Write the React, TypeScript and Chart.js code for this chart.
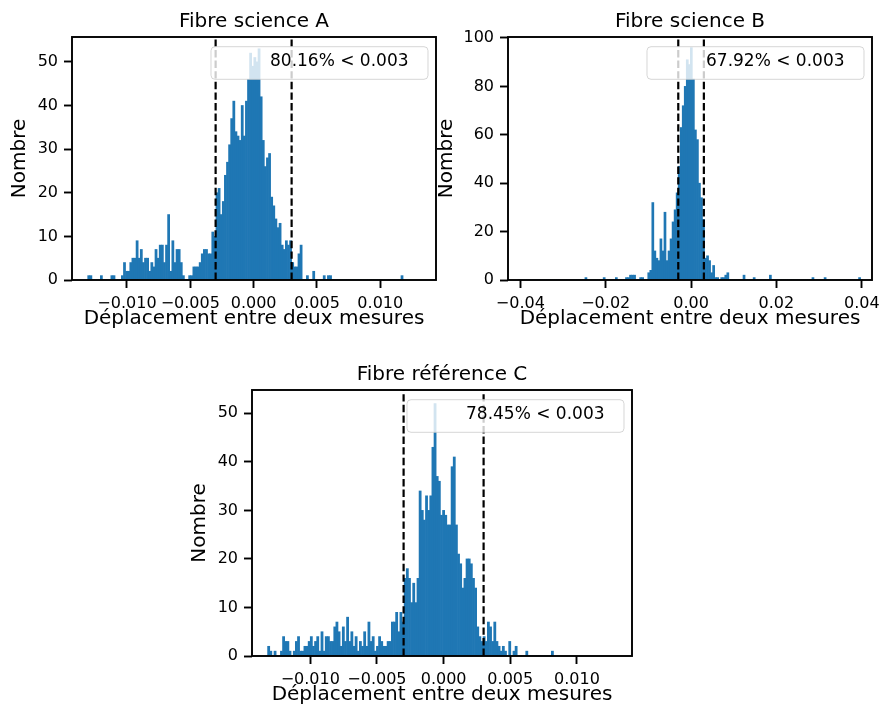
import React, { useEffect, useRef } from "react";
import { Chart, registerables } from "chart.js";

Chart.register(...registerables);

const FONT = "'DejaVu Sans', 'Liberation Sans', sans-serif";
const BAR_COLOR = "#1f77b4";
const X_LABEL = "Déplacement entre deux mesures";
const Y_LABEL = "Nombre";
const THRESHOLD = 0.003;

// ---- Panel A : Fibre science A ----
const A_TITLE = "Fibre science A";
const A_LEGEND = "80.16% < 0.003";
const A_BIN_START = -0.0131;
const A_BIN_WIDTH = 0.000166;
const A_COUNTS = [
  1, 1, 0, 0, 0, 0, 1, 0, 0, 0,
  0, 1, 1, 0, 0, 0, 1, 4, 2, 2,
  4, 5, 5, 9, 5, 7, 4, 5, 5, 2,
  4, 3, 7, 5, 8, 8, 4, 8, 15, 2,
  9, 4, 7, 7, 4, 1, 0, 0, 1, 1,
  3, 3, 3, 4, 6, 7, 7, 6, 6, 11,
  10, 20, 21, 15, 18, 24, 27, 31, 37, 41,
  34, 33, 32, 40, 33, 41, 46, 52, 49, 51,
  50, 53, 42, 32, 26, 28, 29, 19, 17, 14,
  12, 13, 8, 7, 9, 8, 9, 4, 3, 3,
  6, 8, 0, 0, 1, 0, 0, 2, 0, 0,
  0, 0, 1, 0, 1, 1, 0, 0, 0, 0,
  0, 0, 0, 0, 0, 0, 0, 0, 0, 0,
  0, 0, 0, 0, 0, 0, 0, 0, 0, 0,
  0, 0, 0, 0, 0, 0, 0, 0, 0, 1,
];
const A_X_TICKS = [-0.01, -0.005, 0, 0.005, 0.01];
const A_Y_TICKS = [0, 10, 20, 30, 40, 50];
const A_X_MIN = -0.01434;
const A_X_MAX = 0.0144;
const A_Y_MAX = 55.7;

// ---- Panel B : Fibre science B ----
const B_TITLE = "Fibre science B";
const B_LEGEND = "67.92% < 0.003";
const B_BIN_START = -0.04055;
const B_BIN_WIDTH = 0.000475;
const B_COUNTS = [
  0, 0, 0, 0, 0, 0, 0, 0, 0, 0,
  0, 0, 0, 0, 0, 0, 0, 0, 0, 0,
  0, 0, 0, 0, 0, 0, 0, 0, 0, 0,
  0, 0, 0, 1, 0, 0, 0, 0, 0, 0,
  0, 0, 1, 0, 0, 0, 0, 0, 1, 0,
  0, 0, 0, 1, 1, 2, 2, 2, 0, 0,
  1, 1, 0, 0, 3, 4, 32, 12, 9, 8,
  17, 12, 28, 8, 12, 17, 24, 29, 36, 47,
  63, 72, 80, 91, 89, 96, 83, 62, 58, 40,
  34, 25, 9, 10, 8, 3, 6, 1, 1, 0,
  1, 1, 2, 3, 0, 0, 0, 0, 0, 0,
  0, 2, 0, 0, 0, 0, 1, 0, 0, 0,
  0, 0, 0, 0, 2, 0, 0, 0, 0, 0,
  0, 0, 0, 0, 0, 0, 0, 0, 0, 0,
  0, 0, 0, 0, 0, 1, 0, 0, 0, 0,
  0, 1, 0, 0, 0, 0, 0, 0, 0, 0,
  0, 0, 0, 0, 0, 0, 0, 0, 1, 0,
];
const B_X_TICKS = [-0.04, -0.02, 0, 0.02, 0.04];
const B_Y_TICKS = [0, 20, 40, 60, 80, 100];
const B_X_MIN = -0.0429;
const B_X_MAX = 0.0424;
const B_Y_MAX = 100.4;

// ---- Panel C : Fibre référence C ----
const C_TITLE = "Fibre référence C";
const C_LEGEND = "78.45% < 0.003";
const C_BIN_START = -0.0132;
const C_BIN_WIDTH = 0.00016;
const C_COUNTS = [
  2, 1, 0, 1, 0, 0, 1, 4, 3, 3,
  1, 0, 1, 3, 4, 1, 1, 2, 2, 3,
  4, 2, 3, 4, 1, 5, 1, 4, 4, 3,
  3, 6, 7, 5, 2, 6, 3, 8, 3, 5,
  2, 4, 1, 3, 2, 5, 2, 7, 3, 4,
  1, 2, 4, 3, 2, 2, 3, 3, 7, 7,
  9, 5, 9, 7, 16, 18, 16, 11, 15, 11,
  16, 34, 30, 28, 33, 30, 33, 43, 52, 37,
  36, 29, 30, 29, 27, 27, 39, 41, 27, 21,
  19, 14, 16, 20, 20, 19, 16, 14, 6, 4,
  3, 4, 3, 7, 6, 3, 7, 3, 2, 1,
  2, 1, 0, 3, 0, 1, 2, 0, 0, 0,
  0, 1, 0, 0, 0, 0, 0, 0, 0, 0,
  0, 0, 0, 1,
];
const C_X_TICKS = [-0.01, -0.005, 0, 0.005, 0.01];
const C_Y_TICKS = [0, 10, 20, 30, 40, 50];
const C_X_MIN = -0.01437;
const C_X_MAX = 0.01413;
const C_Y_MAX = 54.8;

const fmt = (v: number, d: number) => {
  const s = Math.abs(v) < 1e-12 ? (0).toFixed(d) : v.toFixed(d);
  return s.replace("-", "\u2212");
};

const decorPlugin = {
  id: "histDecor",
  afterDatasetsDraw(chart: any, _args: any, opts: any) {
    const { ctx, chartArea: a, scales } = chart;
    ctx.save();
    // threshold lines (±0.003)
    ctx.strokeStyle = "#000";
    ctx.lineWidth = 2.2;
    ctx.setLineDash([7.4, 3.2]);
    const thr = opts && opts.threshold ? opts.threshold : THRESHOLD;
    for (const t of [-thr, thr]) {
      const x = scales.x.getPixelForValue(t);
      ctx.beginPath();
      ctx.moveTo(x, a.bottom);
      ctx.lineTo(x, a.top);
      ctx.stroke();
    }
    ctx.setLineDash([]);
    // legend box (upper right)
    const w = 217;
    const h = 32.6;
    const right = a.right - 8;
    const top = a.top + 9.7;
    const left = right - w;
    const r = 4;
    ctx.beginPath();
    ctx.moveTo(left + r, top);
    ctx.lineTo(right - r, top);
    ctx.quadraticCurveTo(right, top, right, top + r);
    ctx.lineTo(right, top + h - r);
    ctx.quadraticCurveTo(right, top + h, right - r, top + h);
    ctx.lineTo(left + r, top + h);
    ctx.quadraticCurveTo(left, top + h, left, top + h - r);
    ctx.lineTo(left, top + r);
    ctx.quadraticCurveTo(left, top, left + r, top);
    ctx.closePath();
    ctx.fillStyle = "rgba(255,255,255,0.8)";
    ctx.fill();
    ctx.strokeStyle = "rgba(204,204,204,0.8)";
    ctx.lineWidth = 1;
    ctx.stroke();
    ctx.fillStyle = "#000";
    ctx.font = `17px ${FONT}`;
    ctx.textAlign = "left";
    ctx.textBaseline = "middle";
    ctx.fillText(opts && opts.legend ? opts.legend : "", left + 59, top + 15);
    // frame (spines)
    ctx.strokeStyle = "#000";
    ctx.lineWidth = 1.9;
    ctx.strokeRect(a.left, a.top, a.right - a.left, a.bottom - a.top);
    ctx.restore();
  },
};

type Layout = {
  left: number; top: number; width: number; height: number;
  yAxisW: number; xAxisH: number; padRight: number;
  titleTop: number; titleBottom: number; xTitleBottom: number; yTitleLeft: number;
};

type PanelProps = {
  title: string; legend: string; binStart: number; binWidth: number; counts: number[];
  xTicks: number[]; yTicks: number[]; xMin: number; xMax: number; yMax: number;
  decimals: number; layout: Layout;
};

function Panel(p: PanelProps) {
  const ref = useRef<HTMLCanvasElement | null>(null);
  useEffect(() => {
    if (!ref.current) return;
    const L = p.layout;
    let chart: any = null;
    const points = p.counts.map((c, i) => ({ x: p.binStart + (i + 0.5) * p.binWidth, y: c }));
    const tickFont = { family: FONT, size: 16 };
    const labelFont = { family: FONT, size: 20, weight: "normal" };
    const gridOpts = {
      display: true, drawOnChartArea: false, drawTicks: true, offset: false,
      tickLength: 8, tickWidth: 1.9, tickColor: "#000",
    };
    chart = new Chart(ref.current, {
      type: "bar",
      data: {
        datasets: [{
          data: points,
          backgroundColor: BAR_COLOR,
          borderWidth: 0,
          barPercentage: 1,
          categoryPercentage: 1,
        }],
      },
      options: {
        animation: false,
        responsive: false,
        maintainAspectRatio: false,
        devicePixelRatio: 1,
        layout: { padding: { left: 0, right: L.padRight, top: 0, bottom: 0 } },
        plugins: {
          legend: { display: false },
          tooltip: { enabled: false },
          title: {
            display: true, text: p.title, color: "#000", font: labelFont, fullSize: false,
            padding: { top: L.titleTop, bottom: L.titleBottom },
          },
          histDecor: { legend: p.legend, threshold: THRESHOLD },
        },
        scales: {
          x: {
            type: "linear", min: p.xMin, max: p.xMax, offset: false,
            afterBuildTicks: (s: any) => { s.ticks = p.xTicks.map((v) => ({ value: v })); },
            afterFit: (s: any) => { s.height = L.xAxisH; s.paddingLeft = 0; s.paddingRight = 0; },
            ticks: {
              callback: (v: any) => fmt(Number(v), p.decimals),
              color: "#000", font: tickFont, padding: 6,
              maxRotation: 0, minRotation: 0, autoSkip: false,
            },
            grid: gridOpts,
            border: { display: false },
            title: {
              display: true, text: X_LABEL, color: "#000", font: labelFont,
              padding: { top: 0, bottom: L.xTitleBottom },
            },
          },
          y: {
            type: "linear", min: 0, max: p.yMax,
            afterBuildTicks: (s: any) => { s.ticks = p.yTicks.map((v) => ({ value: v })); },
            afterFit: (s: any) => { s.width = L.yAxisW; s.paddingTop = 0; s.paddingBottom = 0; },
            ticks: { callback: (v: any) => String(v), color: "#000", font: tickFont, padding: 6 },
            grid: gridOpts,
            border: { display: false },
            title: {
              display: true, text: Y_LABEL, color: "#000", font: labelFont,
              padding: { top: L.yTitleLeft, bottom: 0 },
            },
          },
        },
      },
      plugins: [decorPlugin],
    } as any);
    return () => { if (chart) chart.destroy(); };
  }, []);
  const L = p.layout;
  return (
    <div style={{ position: "absolute", left: L.left, top: L.top, width: L.width, height: L.height }}>
      <canvas ref={ref} width={L.width} height={L.height} style={{ width: L.width, height: L.height, display: "block" }} />
    </div>
  );
}

export default function App() {
  return (
    <div>
      <Panel
        title={A_TITLE} legend={A_LEGEND} binStart={A_BIN_START} binWidth={A_BIN_WIDTH} counts={A_COUNTS}
        xTicks={A_X_TICKS} yTicks={A_Y_TICKS} xMin={A_X_MIN} xMax={A_X_MAX} yMax={A_Y_MAX} decimals={3}
        layout={{ left: 0, top: 0, width: 440, height: 340, yAxisW: 72, xAxisH: 60, padRight: 4,
          titleTop: 10, titleBottom: 3, xTitleBottom: 9, yTitleLeft: 8 }}
      />
      <Panel
        title={B_TITLE} legend={B_LEGEND} binStart={B_BIN_START} binWidth={B_BIN_WIDTH} counts={B_COUNTS}
        xTicks={B_X_TICKS} yTicks={B_Y_TICKS} xMin={B_X_MIN} xMax={B_X_MAX} yMax={B_Y_MAX} decimals={2}
        layout={{ left: 430, top: 0, width: 450, height: 340, yAxisW: 78, xAxisH: 60, padRight: 8,
          titleTop: 10, titleBottom: 3, xTitleBottom: 9, yTitleLeft: 5 }}
      />
      <Panel
        title={C_TITLE} legend={C_LEGEND} binStart={C_BIN_START} binWidth={C_BIN_WIDTH} counts={C_COUNTS}
        xTicks={C_X_TICKS} yTicks={C_Y_TICKS} xMin={C_X_MIN} xMax={C_X_MAX} yMax={C_Y_MAX} decimals={3}
        layout={{ left: 180, top: 350, width: 460, height: 360, yAxisW: 72, xAxisH: 54, padRight: 8,
          titleTop: 13, titleBottom: 3, xTitleBottom: 3, yTitleLeft: 8 }}
      />
    </div>
  );
}
